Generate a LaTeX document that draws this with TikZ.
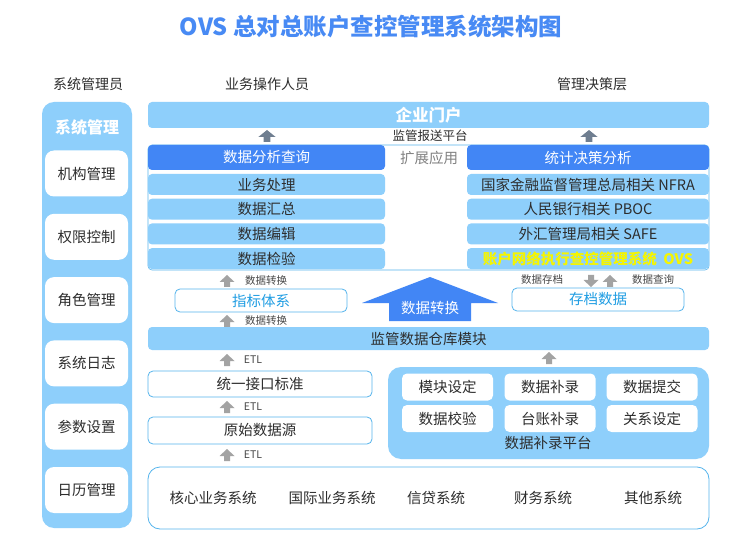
\documentclass[tikz,border=0pt]{standalone}
\usepackage{fontspec}
\setmainfont{Noto Sans CJK SC}
\usetikzlibrary{shapes, arrows}

\definecolor{lightblue}{RGB}{142,207,251}
\definecolor{darkblue}{RGB}{66,134,245}
\definecolor{titleblue}{RGB}{72,138,244}
\definecolor{borderblue}{RGB}{85,180,236}
\definecolor{indexblue}{RGB}{31,157,227}
\definecolor{textgray}{RGB}{45,45,45}
\definecolor{labelgray}{RGB}{70,70,70}
\definecolor{extgray}{RGB}{130,130,130}
\definecolor{arrowgray}{RGB}{163,163,163}
\definecolor{slategray}{RGB}{111,126,144}
\definecolor{ovsyellow}{RGB}{245,245,0}

% small block arrow pointing up, centred at (x,y)
\newcommand{\garrow}[3][]{\fill[arrowgray,shift={(#2,#3)},#1] (-7.5,1) -- (0,-6) -- (7.5,1) -- (3,1) -- (3,6) -- (-3,6) -- (-3,1) -- cycle;}

\begin{document}
\begin{tikzpicture}[x=1pt, y=-1pt,
    every node/.style={font=\fontsize{14.5}{16}\selectfont, text=textgray, inner sep=0pt},
    lbbox/.style={fill=lightblue, rounded corners=4pt},
    hdbox/.style={fill=darkblue, rounded corners=4pt, text=white},
    wbox/.style={fill=white, draw=borderblue, line width=0.8pt, rounded corners=5pt},
    smalltxt/.style={font=\fontsize{10.5}{12}\selectfont, text=labelgray}]

    \fill[white] (0,0) rectangle (750,548);
    \useasboundingbox (0,0) rectangle (750,548);

    % Title and roles
    \node[font=\fontsize{23.5}{27}\selectfont\bfseries, text=titleblue] (title) at (371,27) {OVS 总对总账户查控管理系统架构图};
    \node[font=\fontsize{14}{16}\selectfont] (hdadmin) at (88,84) {系统管理员};
    \node[font=\fontsize{14}{16}\selectfont] (hdops) at (267,84) {业务操作人员};
    \node[font=\fontsize{14}{16}\selectfont] (hdmgr) at (592,84) {管理决策层};

    % System management column
    \node[lbbox, rounded corners=12pt, minimum width=90pt, minimum height=426pt] (sysmgr) at (87,315) {};
    \node[font=\fontsize{16}{18}\selectfont\bfseries, text=white] (sysmgrt) at (87,127) {系统管理};
    \foreach \name [count=\i from 0] in {机构管理,权限控制,角色管理,系统日志,参数设置,日历管理}
        \node[fill=white, rounded corners=9pt, minimum width=83pt, minimum height=46pt] (adm\i) at (86.5,173.5+63.3*\i) {\name};

    % Portal
    \node[lbbox, minimum width=561pt, minimum height=26pt, font=\fontsize{16.5}{18}\selectfont\bfseries, text=white] (portal) at (428.5,115) {企业门户};
    \garrow[fill=slategray, xscale=1.15]{267}{136}
    \garrow[fill=slategray, xscale=1.15]{589}{136}
    \node[font=\fontsize{12.5}{14}\selectfont] (report) at (430,136) {监管报送平台};

    % Analysis applications
    \node[draw=borderblue, line width=0.6pt, rounded corners=4pt, minimum width=561pt, minimum height=125pt] (analysis) at (428.5,207.5) {};
    \node[hdbox, minimum width=237pt, minimum height=25pt] (query) at (266.5,157.5) {数据分析查询};
    \foreach \name [count=\i from 0] in {业务处理,数据汇总,数据编辑,数据检验}
        \node[lbbox, minimum width=237pt, minimum height=21pt] (ops\i) at (266.5,184.5+24.7*\i) {\name};
    \node[text=extgray] (ext) at (429,158) {扩展应用};
    \node[hdbox, minimum width=242pt, minimum height=25pt] (decision) at (588,157.5) {统计决策分析};
    \node[lbbox, minimum width=242pt, minimum height=21pt] (nfra) at (588,184.5) {国家金融监督管理总局相关 NFRA};
    \node[lbbox, minimum width=242pt, minimum height=21pt] (pboc) at (588,209.2) {人民银行相关 PBOC};
    \node[lbbox, minimum width=242pt, minimum height=21pt] (safe) at (588,233.9) {外汇管理局相关 SAFE};
    \node[lbbox, minimum width=242pt, minimum height=21pt, text=ovsyellow, font=\fontsize{14.5}{16}\selectfont\bfseries] (ovs) at (588,258.6) {账户网络执行查控管理系统\ \ OVS};

    % Data conversion layer
    \garrow{227}{281}
    \node[smalltxt] (conv1) at (266,281) {数据转换};
    \node[wbox, minimum width=172pt, minimum height=23pt, text=indexblue] (index) at (261,300.5) {指标体系};
    \garrow{227}{321}
    \node[smalltxt] (conv2) at (266,321) {数据转换};
    \fill[darkblue] (430,277) -- (498,303) -- (471,303) -- (471,321) -- (389,321) -- (389,303) -- (362,303) -- cycle;
    \node[text=white] (convbig) at (430,308) {数据转换};
    \node[smalltxt] (archlbl) at (542,280) {数据存档};
    \garrow[yscale=-1]{591}{281}
    \garrow{610}{281}
    \node[smalltxt] (querylbl) at (653,280) {数据查询};
    \node[wbox, minimum width=172pt, minimum height=23pt, text=indexblue] (archive) at (598,299.5) {存档数据};

    % Warehouse
    \node[lbbox, minimum width=561pt, minimum height=23pt] (warehouse) at (428.5,338.5) {监管数据仓库模块};

    % ETL chain
    \garrow{227}{360}
    \node[smalltxt] (etl1) at (253,360) {ETL};
    \node[wbox, minimum width=224pt, minimum height=26pt] (iface) at (260,384) {统一接口标准};
    \garrow{227}{407}
    \node[smalltxt] (etl2) at (253,407) {ETL};
    \node[wbox, minimum width=224pt, minimum height=27pt] (source) at (260,430.5) {原始数据源};
    \garrow{227}{455}
    \node[smalltxt] (etl3) at (253,455) {ETL};

    % Supplement platform
    \garrow{549}{358}
    \node[lbbox, rounded corners=13pt, minimum width=321pt, minimum height=92pt] (platform) at (548.5,413) {};
    \node[fill=white, rounded corners=5pt, minimum width=91pt, minimum height=27pt] (p1) at (447.5,387) {模块设定};
    \node[fill=white, rounded corners=5pt, minimum width=91pt, minimum height=27pt] (p2) at (550,387) {数据补录};
    \node[fill=white, rounded corners=5pt, minimum width=91pt, minimum height=27pt] (p3) at (652,387) {数据提交};
    \node[fill=white, rounded corners=5pt, minimum width=91pt, minimum height=27pt] (p4) at (447.5,418.5) {数据校验};
    \node[fill=white, rounded corners=5pt, minimum width=91pt, minimum height=27pt] (p5) at (550,418.5) {台账补录};
    \node[fill=white, rounded corners=5pt, minimum width=91pt, minimum height=27pt] (p6) at (652,418.5) {关系设定};
    \node (platlbl) at (548,443) {数据补录平台};

    % Source systems
    \node[wbox, rounded corners=12pt, minimum width=561pt, minimum height=62pt] (systems) at (428.5,498) {};
    \foreach \name/\px [count=\i] in {核心业务系统/213,国际业务系统/332,信贷系统/436,财务系统/543,其他系统/653}
        \node (sys\i) at (\px,498) {\name};

\end{tikzpicture}
\end{document}
